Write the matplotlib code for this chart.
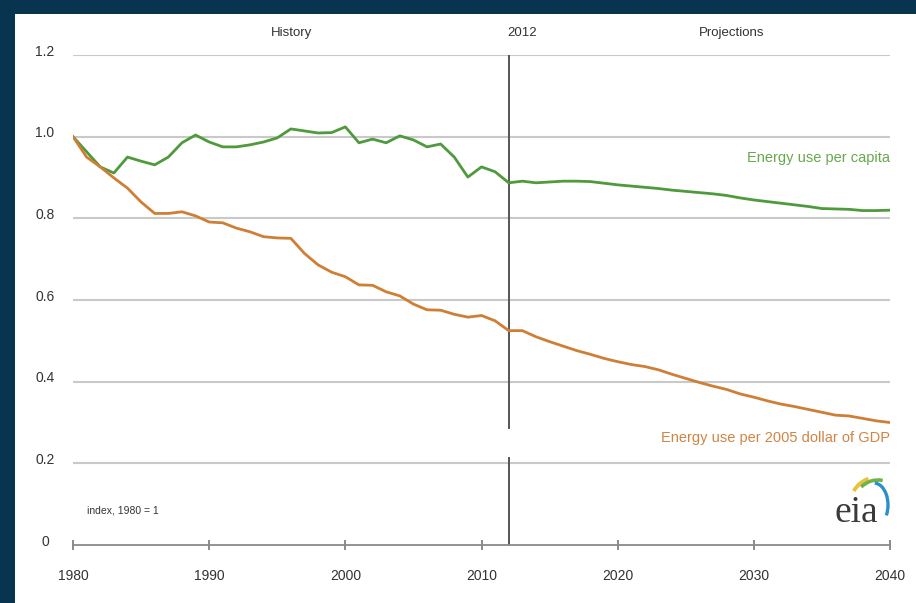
import matplotlib
matplotlib.use("Agg")
import matplotlib.pyplot as plt
from matplotlib.patches import Rectangle, Arc
from matplotlib.transforms import blended_transform_factory

plt.rcParams['font.family'] = ['Liberation Sans', 'DejaVu Sans']

years = list(range(1980, 2041))

per_capita = [
    1.000, 0.963, 0.926, 0.911, 0.950, 0.940, 0.931, 0.950, 0.985, 1.004,
    0.987, 0.975, 0.975, 0.980, 0.987, 0.997, 1.019, 1.014, 1.009, 1.010,
    1.024, 0.985, 0.994, 0.985, 1.002, 0.992, 0.975, 0.982, 0.950, 0.901,
    0.926, 0.914, 0.887, 0.891, 0.887, 0.889, 0.891, 0.891, 0.890, 0.886,
    0.882, 0.879, 0.876, 0.873, 0.869, 0.866, 0.863, 0.860, 0.856, 0.850,
    0.845, 0.841, 0.837, 0.833, 0.829, 0.824, 0.823, 0.822, 0.819, 0.819,
    0.820,
]

per_gdp = [
    1.000, 0.950, 0.926, 0.899, 0.874, 0.840, 0.812, 0.812, 0.816, 0.806,
    0.791, 0.789, 0.776, 0.767, 0.755, 0.752, 0.751, 0.714, 0.686, 0.668,
    0.657, 0.637, 0.636, 0.620, 0.610, 0.590, 0.576, 0.575, 0.565, 0.558,
    0.562, 0.549, 0.525, 0.525, 0.510, 0.498, 0.487, 0.476, 0.467, 0.457,
    0.449, 0.442, 0.437, 0.429, 0.418, 0.408, 0.398, 0.389, 0.381, 0.370,
    0.362, 0.353, 0.345, 0.339, 0.332, 0.325, 0.318, 0.316, 0.310, 0.304,
    0.300,
]

x_ticks = [1980, 1990, 2000, 2010, 2020, 2030, 2040]
y_ticks = [0.2, 0.4, 0.6, 0.8, 1.0, 1.2]
y_tick_labels = ["0.2", "0.4", "0.6", "0.8", "1.0", "1.2"]
split_year = 2012

series_labels = ["Energy use per capita", "Energy use per 2005 dollar of GDP"]

green = "#4e9a3c"
orange = "#cf7f35"
green_txt = "#67a84c"
orange_txt = "#d08544"
grid_c = "#c9c9c9"
navy = "#08344f"

W, H = 916, 603
fig = plt.figure(figsize=(W / 100, H / 100), dpi=100)
fig.patch.set_facecolor("white")

# frame bands
fig.add_artist(Rectangle((0, 1 - 14 / H), 1, 14 / H, transform=fig.transFigure,
                         facecolor=navy, edgecolor="none", zorder=10))
fig.add_artist(Rectangle((0, 0), 15 / W, 1, transform=fig.transFigure,
                         facecolor=navy, edgecolor="none", zorder=10))

left, right = 73 / W, 890 / W
bottom, top = 1 - 545 / H, 1 - 55 / H
ax = fig.add_axes([left, bottom, right - left, top - bottom])
ax.set_xlim(1980, 2040)
ax.set_ylim(0, 1.2)

for s in ["top", "right", "left"]:
    ax.spines[s].set_visible(False)
ax.spines["bottom"].set_color("#8a8a8a")
ax.spines["bottom"].set_linewidth(1.3)

for yv in y_ticks:
    ax.axhline(yv, color=grid_c, lw=1.5, zorder=1)

ax.set_yticks([])
ytr = blended_transform_factory(ax.transAxes, ax.transData)
for yv, lab in zip([0] + y_ticks, ["0"] + y_tick_labels):
    ax.text(-28 / 817, yv + 0.008, lab, transform=ytr, ha="center", va="center",
            fontsize=10, color="#333333")

ax.set_xticks(x_ticks)
ax.set_xticklabels([str(t) for t in x_ticks])
ax.tick_params(axis="x", direction="inout", length=7, width=1.2, color="#777777",
               pad=14, labelsize=10, labelcolor="#333333")

# 2012 divider, with gap
ax.plot([split_year, split_year], [0.286, 1.2], color="#555555", lw=1.4, zorder=2)
ax.plot([split_year, split_year], [0.0, 0.213], color="#555555", lw=1.4, zorder=2)

ax.plot(years, per_capita, color=green, lw=2.0, zorder=3, solid_joinstyle="round")
ax.plot(years, per_gdp, color=orange, lw=2.0, zorder=3, solid_joinstyle="round")

ax.text(2040, 0.947, series_labels[0], color=green_txt, fontsize=10.5,
        ha="right", va="center")
ax.text(2040, 0.263, series_labels[1], color=orange_txt, fontsize=10.5,
        ha="right", va="center")

ax.text(1981, 0.085, "index, 1980 = 1", fontsize=7.5, color="#333333",
        ha="left", va="center")

# header labels
fig.text(292 / W, 1 - 33 / H, "History", fontsize=9.5, color="#333333",
         ha="center", va="center")
fig.text(522 / W, 1 - 33 / H, "2012", fontsize=9.5, color="#333333",
         ha="center", va="center")
fig.text(732 / W, 1 - 33 / H, "Projections", fontsize=9.5, color="#333333",
         ha="center", va="center")

# eia logo
fig.text(856 / W, 1 - 513 / H, "eia", fontsize=27, color="#3a3a3a",
         family=["Liberation Serif", "DejaVu Serif"], ha="center", va="center")
lax = fig.add_axes([820 / W, 1 - 535 / H, 75 / W, 65 / H])
lax.set_xlim(0, 75)
lax.set_ylim(0, 65)
lax.axis("off")
lax.add_patch(Arc((58, 30), 56, 56, theta1=110, theta2=150, color="#e8c23a", lw=2.8))
lax.add_patch(Arc((58, 28), 50, 54, theta1=80, theta2=130, color="#6db34a", lw=2.6))
lax.add_patch(Arc((54, 30), 28, 44, theta1=-40, theta2=88, color="#2b8fc9", lw=2.4))

fig.savefig("out.png", dpi=100)
